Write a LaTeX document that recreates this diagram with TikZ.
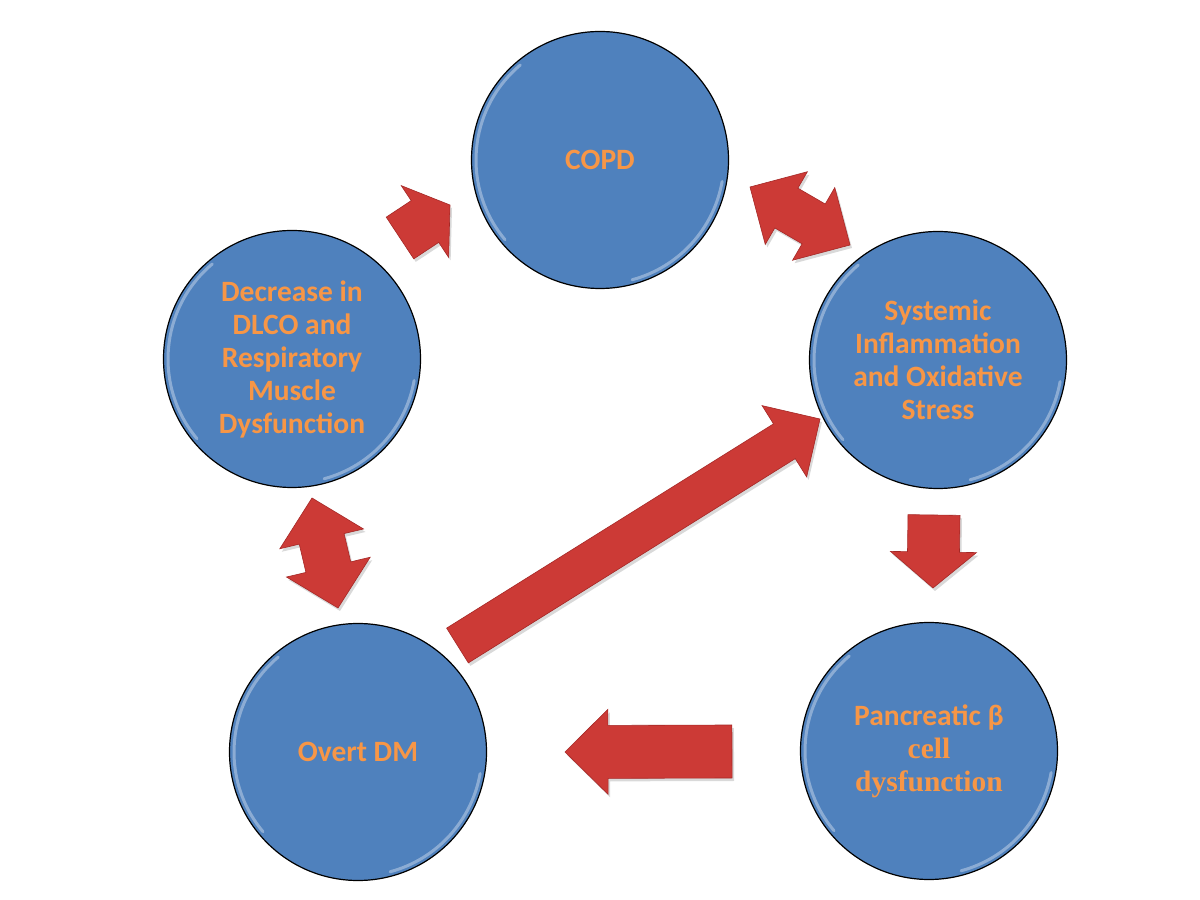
\documentclass[tikz,border=0pt]{standalone}
\usepackage{fontspec}
\setmainfont{Carlito}
\newfontfamily\serifb{Liberation Serif}
\usetikzlibrary{calc}
\definecolor{cblue}{RGB}{79,129,189}
\definecolor{corange}{RGB}{247,150,70}
\definecolor{ared}{RGB}{204,58,54}
\definecolor{ared2}{RGB}{165,40,38}
\tikzset{
  circ/.style={circle, fill=cblue, draw=black, line width=1.2pt, minimum size=257pt,
    inner sep=0pt, text=corange, font=\bfseries\fontsize{29.5}{33}\selectfont, align=center},
  blockarrow/.style={fill=ared, draw=ared2, line width=0.6pt, line join=miter,
    preaction={draw=none, fill=black, fill opacity=0.15, transform canvas={shift={(2pt,-3pt)}}}},
  glint/.style={white, opacity=0.35, line width=3pt, line cap=round}
}
% single block arrow: #1 tail, #2 tip, #3 shaft half width, #4 head half width, #5 head length
\newcommand{\singleblock}[5]{%
  \path ($(#2)!#5!(#1)$) coordinate (hb);
  \draw[blockarrow] ($(#1)!#3!90:(#2)$) -- ($(hb)!#3!90:(#2)$) -- ($(hb)!#4!90:(#2)$) -- (#2)
    -- ($(hb)!#4!-90:(#2)$) -- ($(hb)!#3!-90:(#2)$) -- ($(#1)!#3!-90:(#2)$) -- cycle;}
% double block arrow: #1 tip A, #2 tip B, #3 shaft half, #4 head half, #5 head length
\newcommand{\doubleblock}[5]{%
  \path ($(#1)!#5!(#2)$) coordinate (ha) ($(#2)!#5!(#1)$) coordinate (hb);
  \draw[blockarrow] (#1) -- ($(ha)!#4!90:(#2)$) -- ($(ha)!#3!90:(#2)$) -- ($(hb)!#3!90:(#2)$)
    -- ($(hb)!#4!90:(#2)$) -- (#2) -- ($(hb)!#4!-90:(#2)$) -- ($(hb)!#3!-90:(#2)$)
    -- ($(ha)!#3!-90:(#2)$) -- ($(ha)!#4!-90:(#2)$) -- cycle;}
\begin{document}
\begin{tikzpicture}[x=1pt, y=1pt]
\fill[white] (0,0) rectangle (1200,900);
\useasboundingbox (0,0) rectangle (1200,900);

\node[circ] (copd) at (600,740) {COPD};
\node[circ] (dlco) at (292,541) {Decrease in\\DLCO and\\Respiratory\\Muscle\\Dysfunction};
\node[circ] (sys) at (938,540) {Systemic\\Inflammation\\and Oxidative\\Stress};
\node[circ] (dm) at (358,148) {Overt DM};
\node[circ] (panc) at (929,149) {Pancreatic β\\{\serifb\bfseries cell}\\{\serifb\bfseries dysfunction}};

\foreach \n in {copd,dlco,sys,dm,panc}{
  \draw[glint] ($(\n.center)+(130:124pt)$) arc[start angle=130, end angle=220, radius=124pt];
  \draw[glint] ($(\n.center)+(-75:124pt)$) arc[start angle=-75, end angle=-10, radius=124pt];
}

% connector end points
\coordinate (a1t) at (400,662); \coordinate (a1h) at (450,695);
\coordinate (a2a) at (750,713); \coordinate (a2b) at (850,655);
\coordinate (a3a) at (312,402); \coordinate (a3b) at (338,292);
\coordinate (a4t) at (457.5,254.5); \coordinate (a4h) at (820,481);
\coordinate (a5t) at (934,385); \coordinate (a5h) at (933,312);
\coordinate (a6t) at (732,148.5); \coordinate (a6h) at (565,148);

\singleblock{a1t}{a1h}{25pt}{43pt}{30pt}
\doubleblock{a2a}{a2b}{23pt}{42pt}{42pt}
\doubleblock{a3a}{a3b}{23pt}{43pt}{42pt}
\singleblock{a4t}{a4h}{20.5pt}{42pt}{42pt}
\singleblock{a5t}{a5h}{26pt}{43pt}{36pt}
\singleblock{a6t}{a6h}{26.5pt}{42.5pt}{43pt}
\end{tikzpicture}
\end{document}
